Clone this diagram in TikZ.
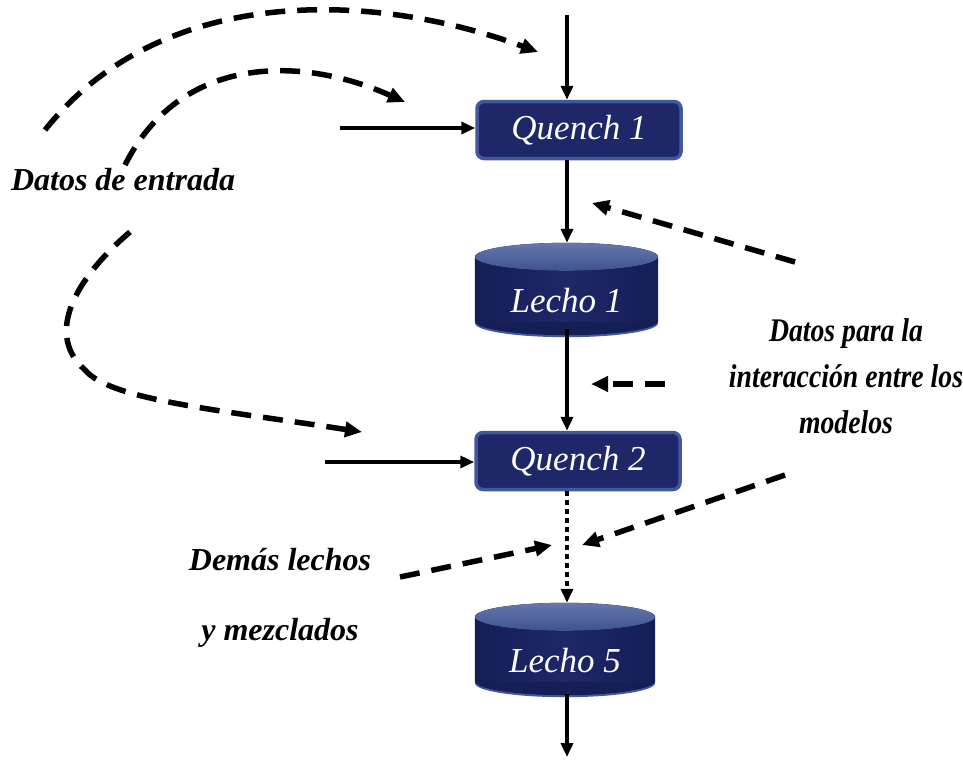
\documentclass[tikz,border=0pt]{standalone}
\usepackage{fontspec}
\setmainfont{Liberation Serif}
\newfontfamily\condfont[FakeStretch=0.84]{Liberation Serif}
\usetikzlibrary{arrows.meta,calc,backgrounds}
\definecolor{navy}{RGB}{30,39,104}
\definecolor{navyD}{RGB}{22,30,86}
\definecolor{rim}{RGB}{66,88,156}
\definecolor{capL}{RGB}{100,120,172}
\definecolor{capD}{RGB}{62,82,144}
\newcommand\cylbg[2]{%
  \fill[rim] ($(#1.south)+(0,-14)$) ellipse [x radius=#2pt, y radius=14pt];
  \fill[navyD] ($(#1.south)+(0,-16)$) ellipse [x radius=#2pt, y radius=14pt];
  \fill[left color=navyD,right color=navyD,middle color=navy] ($(#1.north west)+(0,14)$) rectangle ($(#1.south east)+(0,-16)$);
  \fill[top color=capL,bottom color=capD] ($(#1.north)+(0,14)$) ellipse [x radius=#2pt, y radius=14pt];
}
\begin{document}
\begin{tikzpicture}[x=1pt,y=-1pt,
  qbox/.style={draw=rim, line width=3.5pt, fill=navy, rounded corners=7pt,
    minimum width=204pt, minimum height=57pt, inner sep=0pt, text=white,
    font=\fontsize{35}{40}\selectfont\itshape},
  cylnode/.style={minimum height=94pt, inner sep=0pt, text=white,
    text height=44pt, text depth=0pt, font=\fontsize{35}{40}\selectfont\itshape},
  flow/.style={line width=3.8pt, -{Triangle[length=14pt,width=12pt]}},
  dflow/.style={line width=5.5pt, dash pattern=on 20pt off 12pt, -{Triangle[length=17pt,width=15pt]}},
  dotflow/.style={line width=4.5pt, dash pattern=on 5pt off 4pt, -{Triangle[length=14pt,width=12pt]}},
  lbl/.style={font=\fontsize{32}{45}\selectfont\bfseries\itshape, align=center}]
\useasboundingbox (0,0) rectangle (963,763);

\coordinate (top) at (567,15);
\coordinate (bot) at (567,757);
\node[qbox] (q1) at (579,130) {Quench 1};
\node[cylnode, minimum width=183pt] (l1) at (566.5,290) {Lecho 1};
\node[qbox] (q2) at (578,461) {Quench 2};
\node[cylnode, minimum width=180pt] (l5) at (565,650) {Lecho 5};
\begin{scope}[on background layer]
  \cylbg{l1}{91.5}
  \cylbg{l5}{90}
\end{scope}

% main flow
\draw[flow] (top) -- (top |- q1.north);
\draw[flow] (q1.south -| top) -- (l1.north -| top);
\draw[flow] ([yshift=8pt]l1.south -| top) -- (q2.north -| top);
\draw[dotflow] (q2.south -| top) -- (l5.north -| top);
\draw[flow] ([yshift=3pt]l5.south -| top) -- (bot);

% side inputs
\coordinate (in1) at (340,128);
\coordinate (in2) at (325,462);
\draw[flow] (in1) -- (in1 -| q1.west);
\draw[flow] (in2) -- (in2 -| q2.west);

% labels
\node[lbl] (de) at (123,180) {Datos de entrada};
\node[lbl, font=\condfont\fontsize{33}{46}\selectfont\bfseries\itshape] (dp) at (846,376) {Datos para la\\interacción entre los\\modelos};
\node[lbl, font=\fontsize{32}{70}\selectfont\bfseries\itshape] (dl) at (280,598) {Demás lechos\\y mezclados};

% dashed curves (input data)
\coordinate (a1s) at (45,130);  \coordinate (a1e) at (538,52);
\coordinate (a2s) at (125,165); \coordinate (a2e) at (405,102);
\coordinate (a3s) at (130,232); \coordinate (a3m) at (85,370); \coordinate (a3e) at (362,432);
\draw[dflow] (a1s) .. controls (160,-15) and (370,-10) .. (a1e);
\draw[dflow] (a2s) .. controls (180,55) and (300,55) .. (a2e);
\draw[dflow] (a3s) .. controls (85,270) and (40,330) .. (a3m) .. controls (110,400) and (220,410) .. (a3e);

% dashed arrows (interaction data)
\coordinate (b1s) at (795,262); \coordinate (b1e) at (592,203);
\coordinate (b2s) at (665,384); \coordinate (b2e) at (591,384);
\coordinate (b3s) at (785,475); \coordinate (b3e) at (582,545);
\coordinate (b4s) at (400,577); \coordinate (b4e) at (552,545);
\draw[dflow] (b1s) -- (b1e);
\draw[dflow] (b2s) -- (b2e);
\draw[dflow] (b3s) -- (b3e);
\draw[dflow] (b4s) -- (b4e);
\end{tikzpicture}
\end{document}
